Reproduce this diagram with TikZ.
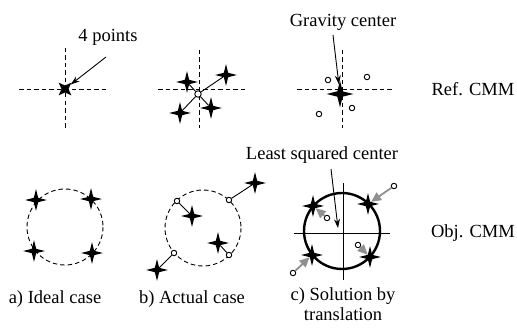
\documentclass[tikz,border=0pt]{standalone}
\usepackage{fontspec}
\setmainfont{Liberation Serif}
\usetikzlibrary{arrows.meta,positioning,shapes.geometric}

\tikzset{
  spark/.style={star,star points=4,star point ratio=3.6,fill=black,inner sep=0pt,minimum size=22pt},
  probe/.style={circle,draw,fill=white,line width=0.9pt,inner sep=0pt,minimum size=5.5pt},
  guide/.style={line width=0.9pt,dash pattern=on 4.5pt off 3pt},
  lbl/.style={font=\fontsize{18.5}{20}\selectfont,inner sep=0pt},
  pointer/.style={line width=0.9pt,-{Stealth[length=9pt,width=6pt]}},
  moveto/.style={gray!55!black!60,line width=1.8pt,-{Triangle[length=10pt,width=9pt]}},
}

\begin{document}
\begin{tikzpicture}[x=1pt,y=-1pt]
  \useasboundingbox (0,0) rectangle (517,329);

  % --- reference CMM, ideal case
  \draw[guide] (19,89) -- (108,89);
  \draw[guide] (65,48) -- (65,128);
  \node[spark,rotate=45,star point ratio=2.6,minimum size=18pt] (ra) at (65,89) {};
  \node[lbl] (fourpts) at (108,37) {4 points};
  \coordinate (fourtail) at (106,57);
  \draw[pointer] (fourtail) -- (ra);

  % --- reference CMM, actual case
  \draw[guide] (158,89) -- (247,89);
  \draw[guide] (199,50) -- (199,128);
  \node[spark] (rb1) at (187,82) {};
  \node[spark] (rb2) at (226,75) {};
  \node[spark] (rb3) at (180,113) {};
  \node[spark] (rb4) at (211,108) {};
  \node[probe,minimum size=6.5pt] (rbo) at (198,94) {};
  \foreach \s in {rb1,rb2,rb3,rb4}
    \draw[line width=0.9pt] (rbo) -- (\s);

  % --- reference CMM, gravity center
  \draw[guide] (297,89) -- (393,89);
  \draw[guide] (342,50) -- (342,128);
  \node[probe] (rc1) at (328,80) {};
  \node[probe] (rc2) at (367,77) {};
  \node[probe] (rc3) at (319,114) {};
  \node[probe] (rc4) at (352,108) {};
  \node[spark,minimum size=27pt] (rcg) at (340,94) {};
  \node[lbl] (gravity) at (343,22) {Gravity center};
  \coordinate (gravtail) at (333,35);
  \draw[pointer] (gravtail) -- (rcg);

  \node[lbl] (refcmm) at (473,89) {Ref. CMM};

  % --- object CMM, ideal case
  \draw[guide] (65,227) circle[radius=38];
  \node[spark] (oa1) at (36,200) {};
  \node[spark] (oa2) at (91,199) {};
  \node[spark] (oa3) at (34,251) {};
  \node[spark] (oa4) at (92,253) {};
  \node[lbl] (capa) at (55,299) {a) Ideal case};

  % --- object CMM, actual case
  \draw[guide] (203,228) circle[radius=38];
  \node[spark] (ob1) at (192,216) {};
  \node[spark] (ob2) at (255,183) {};
  \node[spark] (ob3) at (218,243) {};
  \node[spark] (ob4) at (157,270) {};
  \node[probe] (obo1) at (177,201) {};
  \node[probe] (obo2) at (229,200) {};
  \node[probe] (obo3) at (229,255) {};
  \node[probe] (obo4) at (174,253) {};
  \foreach \i in {1,2,3,4}
    \draw[line width=0.9pt] (obo\i) -- (ob\i);
  \node[lbl] (capb) at (192,299) {b) Actual case};

  % --- object CMM, solution by translation
  \draw[line width=0.9pt] (294,233) -- (390,233);
  \draw[line width=0.9pt] (343,183) -- (343,280);
  \draw[line width=2.4pt] (342,231) circle[radius=38];
  \node[spark] (oc1) at (313,206) {};
  \node[spark] (oc2) at (368,204) {};
  \node[spark] (oc3) at (370,257) {};
  \node[spark] (oc4) at (312,255) {};
  \node[probe] (oco1) at (327,218) {};
  \node[probe] (oco2) at (394,186) {};
  \node[probe] (oco3) at (358,245) {};
  \node[probe] (oco4) at (293,273) {};
  \foreach \i in {1,2,3,4}
    \draw[moveto] (oco\i) -- (oc\i);
  \node[lbl] (least) at (322,155) {Least squared center};
  \coordinate (leasttail) at (331,169);
  \coordinate (leasthead) at (338,228);
  \draw[pointer] (leasttail) -- (leasthead);
  \node[lbl,align=center] (capc) at (343,304) {c) Solution by\\translation};

  \node[lbl] (objcmm) at (473,233) {Obj. CMM};
\end{tikzpicture}
\end{document}
